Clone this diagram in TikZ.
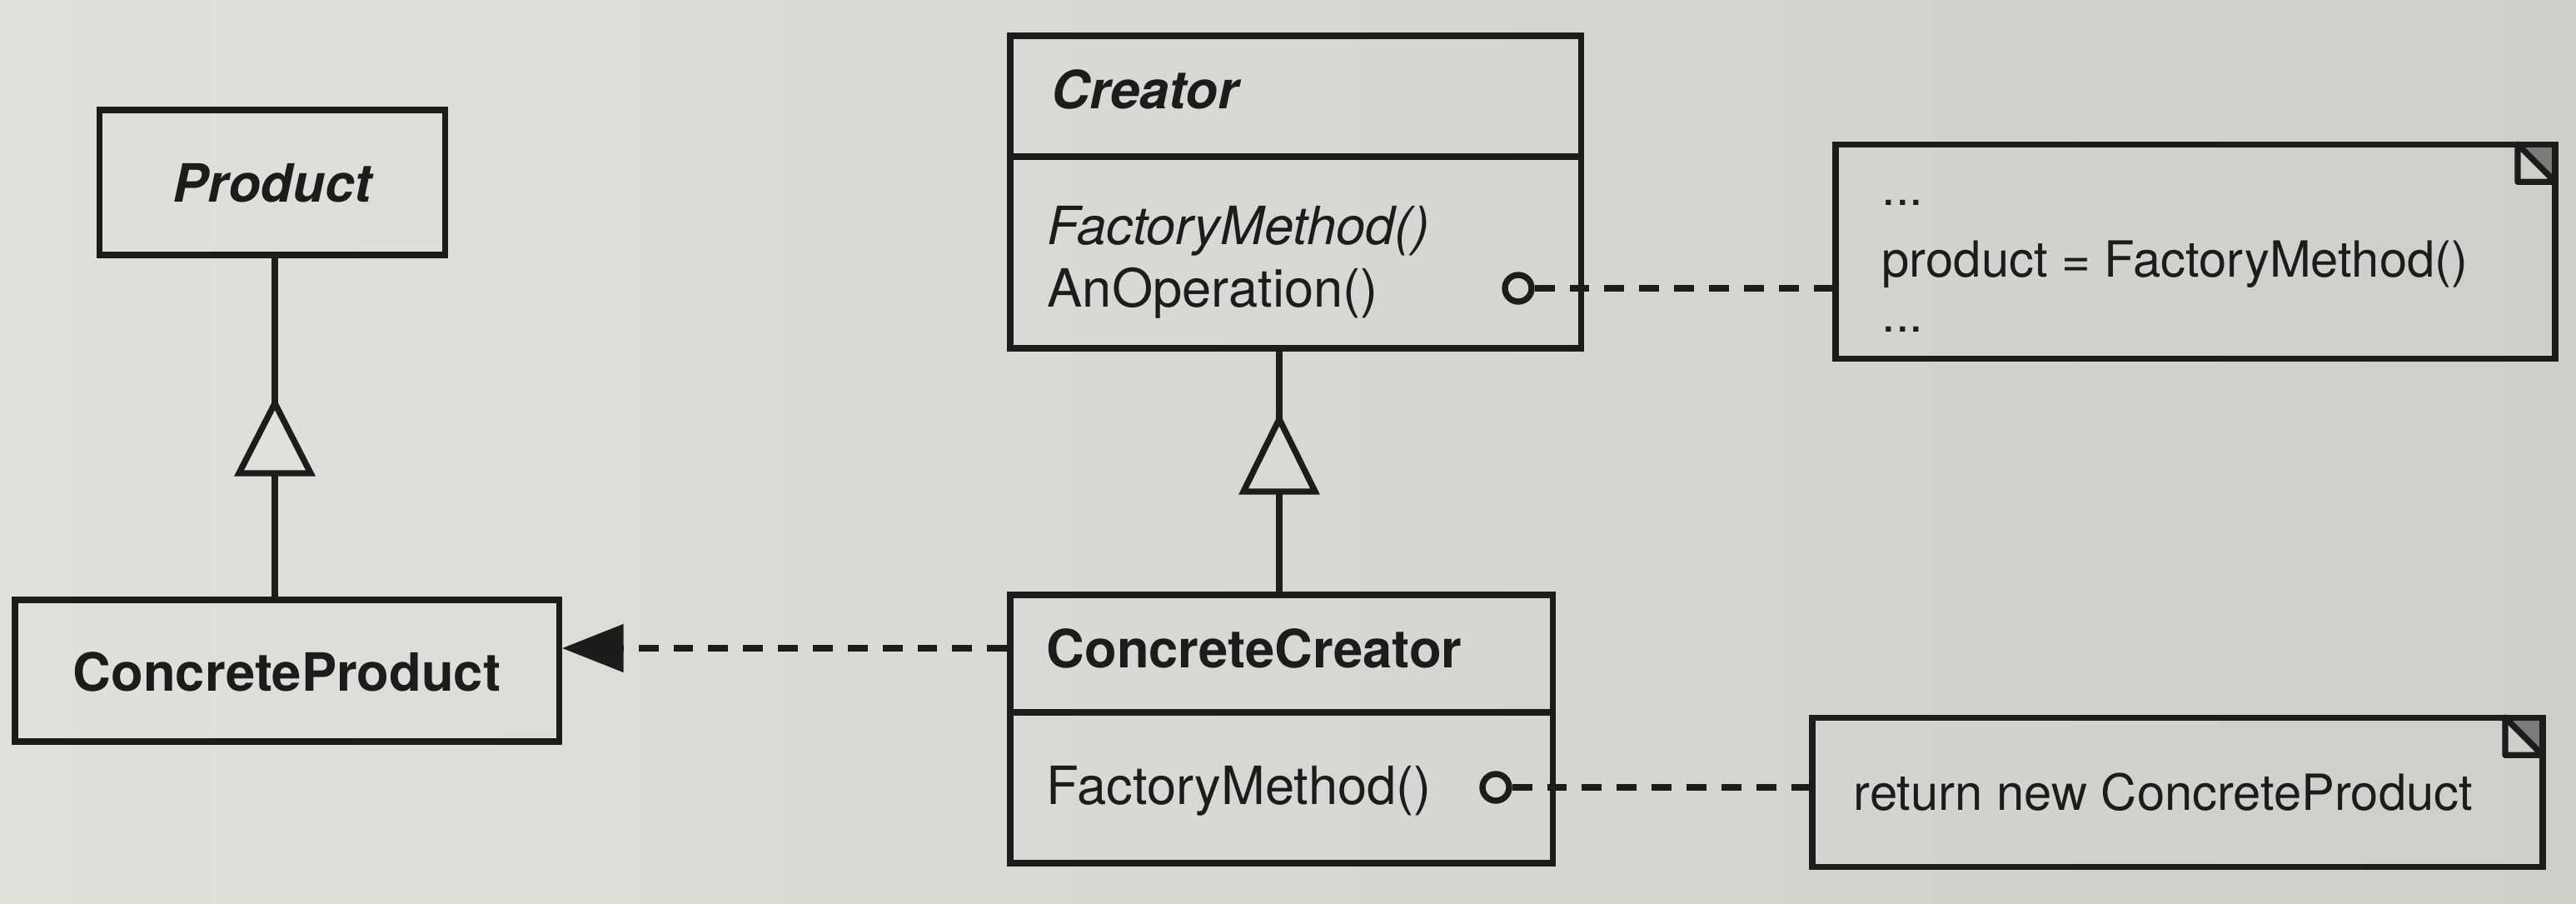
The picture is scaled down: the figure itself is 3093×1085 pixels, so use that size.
\documentclass[tikz,border=0pt]{standalone}
\usepackage{fontspec}
\setmainfont{TeX Gyre Heros}
\usetikzlibrary{arrows.meta}
\definecolor{paperl}{RGB}{226,224,219}
\definecolor{paperr}{RGB}{208,206,201}
\definecolor{paper}{RGB}{220,218,213}
\definecolor{ink}{RGB}{30,27,27}
\definecolor{earfill}{RGB}{125,122,120}
\begin{document}
\begin{tikzpicture}[x=0.01cm,y=-0.01cm,
  box/.style={draw=ink, line width=2.1pt, rectangle, inner sep=0pt},
  ghost/.style={rectangle, inner sep=0pt},
  clsname/.style={font=\fontsize{18}{21}\selectfont\bfseries, text=ink, inner sep=0pt},
  absname/.style={font=\fontsize{18}{21}\selectfont\bfseries\itshape, text=ink, inner sep=0pt},
  optext/.style={font=\fontsize{18}{21}\selectfont, text=ink, inner sep=0pt, anchor=base west},
  notetext/.style={font=\fontsize{17}{20}\selectfont, text=ink, inner sep=0pt, anchor=base west},
  conn/.style={draw=ink, line width=2.1pt},
  dashconn/.style={conn, dash pattern=on 6.8pt off 5.1pt},
  dot/.style={circle, draw=ink, line width=2.1pt, inner sep=0pt, minimum size=0.32cm}]

% background
\shade[left color=paperl, right color=paperr] (0,0) rectangle (3093,1085);
\useasboundingbox (0,0) rectangle (3093,1085);

% ---------- classes ----------
\node[box, minimum width=4.15cm, minimum height=1.74cm] (prod) at (327,219) {};
\node[absname, anchor=base] (prodname) at (327,242) {Product};

\node[box, minimum width=6.53cm, minimum height=1.70cm] (cprod) at (344.5,805) {};
\node[clsname, anchor=base] (cprodname) at (344.5,829) {ConcreteProduct};

\node[box, minimum width=6.85cm, minimum height=3.75cm] (cre) at (1555.5,230.5) {};
\coordinate (div1) at (0,188);
\draw[conn] (cre.west |- div1) -- (cre.east |- div1);
\node[absname, anchor=base west] (crename) at (1262,131) {Creator};
\node[optext] (crefm) at (1257,294) {\itshape FactoryMethod()};
\node[optext] (creop) at (1257,369) {AnOperation()};

\node[box, minimum width=6.51cm, minimum height=3.22cm] (ccre) at (1538.5,875) {};
\coordinate (div2) at (0,855);
\draw[conn] (ccre.west |- div2) -- (ccre.east |- div2);
\node[clsname, anchor=base west] (ccrename) at (1256,801) {ConcreteCreator};
\node[optext] (ccrefm) at (1256,965) {FactoryMethod()};

% ---------- notes ----------
\node[ghost, minimum width=8.62cm, minimum height=2.56cm] (note1) at (2636,302) {};
\fill[earfill] ([xshift=-0.45cm]note1.north east) -- (note1.north east) -- ([yshift=-0.45cm]note1.north east) -- cycle;
\draw[conn] (note1.north west) rectangle (note1.south east);
\draw[conn, fill=paperr, line join=round] ([xshift=-0.45cm]note1.north east) -- ([xshift=-0.45cm,yshift=-0.45cm]note1.north east) -- ([yshift=-0.45cm]note1.north east) -- cycle;
\node[notetext] (n1a) at (2259,247) {...};
\node[notetext] (n1b) at (2259,333) {product = FactoryMethod()};
\node[notetext] (n1c) at (2259,398) {...};

\node[ghost, minimum width=8.75cm, minimum height=1.78cm] (note2) at (2614.5,951) {};
\fill[earfill] ([xshift=-0.45cm]note2.north east) -- (note2.north east) -- ([yshift=-0.45cm]note2.north east) -- cycle;
\draw[conn] (note2.north west) rectangle (note2.south east);
\draw[conn, fill=paperr, line join=round] ([xshift=-0.45cm]note2.north east) -- ([xshift=-0.45cm,yshift=-0.45cm]note2.north east) -- ([yshift=-0.45cm]note2.north east) -- cycle;
\node[notetext] (n2a) at (2225,972) {return new ConcreteProduct};

% ---------- inheritance ----------
\coordinate (t1a) at (330,484);
\coordinate (t1b) at (330,568);
\draw[conn] (t1a) -- (t1a |- prod.south);
\draw[conn] (t1b) -- (t1b |- cprod.north);
\draw[conn, fill=paperl, line join=miter] (t1a) -- ++(43,84) -- ++(-86,0) -- cycle;

\coordinate (t2a) at (1536,503);
\coordinate (t2b) at (1536,590);
\draw[conn] (t2a) -- (t2a |- cre.south);
\draw[conn] (t2b) -- (t2b |- ccre.north);
\draw[conn, fill=paper, line join=miter] (t2a) -- ++(43,87) -- ++(-86,0) -- cycle;

% ---------- dependency ----------
\coordinate (dep) at (0,778);
\draw[dashconn, -{Triangle[length=21pt, width=16pt]}] (ccre.west |- dep) -- (cprod.east |- dep);

% ---------- note links ----------
\node[dot] (c1) at (1823,346) {};
\draw[dashconn] (c1.east) -- (note1.west |- c1);
\node[dot] (c2) at (1796,945) {};
\draw[dashconn] (c2.east) -- (note2.west |- c2);
\end{tikzpicture}
\end{document}
